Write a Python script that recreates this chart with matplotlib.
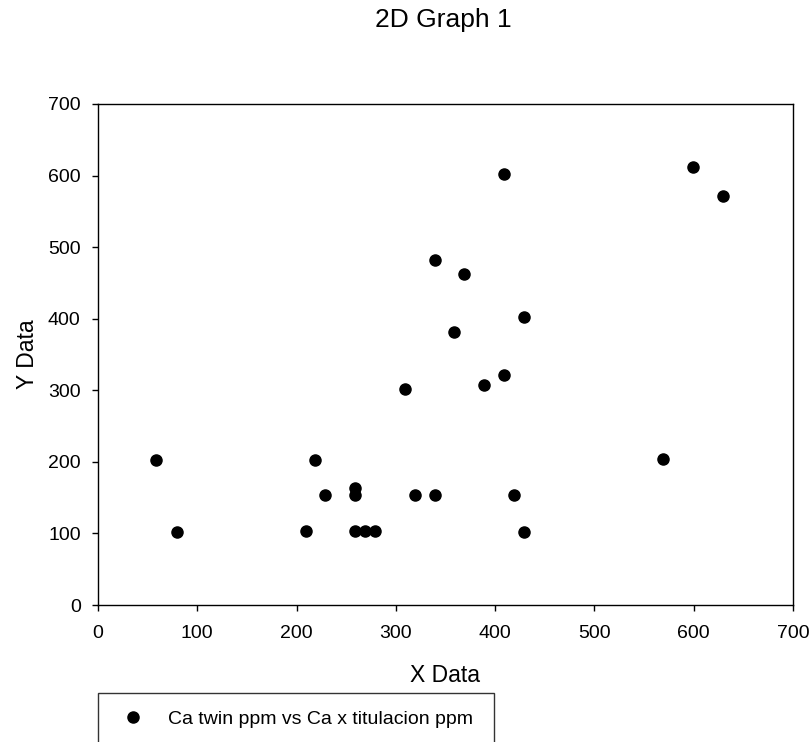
import matplotlib
matplotlib.use("Agg")
import matplotlib.pyplot as plt

plt.rcParams['font.family'] = ['Liberation Sans', 'DejaVu Sans']

# Ca x titulacion ppm (x) vs Ca twin ppm (y)
ca_titulacion = [58, 80, 209, 219, 229, 259, 259, 259, 269, 279, 309, 319, 339,
                 339, 359, 369, 389, 409, 409, 419, 429, 429, 569, 599, 629]
ca_twin = [202, 102, 103, 202, 154, 164, 154, 103, 103, 103, 302, 154, 154,
           482, 382, 462, 307, 322, 602, 154, 102, 402, 204, 612, 572]

x_ticks = [0, 100, 200, 300, 400, 500, 600, 700]
y_ticks = [0, 100, 200, 300, 400, 500, 600, 700]
series_label = "Ca twin ppm vs Ca x titulacion ppm"

W, H = 812, 742
fig = plt.figure(figsize=(W / 100, H / 100), dpi=100)
ax = fig.add_axes([98 / W, 1 - 605 / H, 695 / W, 501 / H])

ax.plot(ca_titulacion, ca_twin, 'o', ls='none', color='black', ms=8,
        label=series_label)

ax.set_xlim(0, 700)
ax.set_ylim(0, 700)
ax.set_xticks(x_ticks)
ax.set_yticks(y_ticks)
ax.tick_params(axis='both', direction='out', length=4.5, width=1,
               labelsize=14, top=False, right=False)
ax.tick_params(axis='x', pad=10)
ax.tick_params(axis='y', pad=8)
for sp in ax.spines.values():
    sp.set_linewidth(1)

ax.set_xlabel("X Data", fontsize=16.5)
ax.set_ylabel("Y Data", fontsize=16.5)
ax.xaxis.set_label_coords(0.5, -(675 - 605) / 501)
ax.yaxis.set_label_coords(-(98 - 28) / 695, 0.5)
ax.xaxis.label.set_va('center')
ax.yaxis.label.set_va('center')

fig.text(443.5 / W, 1 - 20 / H, "2D Graph 1", ha='center', va='center',
         fontsize=19)

leg = ax.legend(loc='upper left', mode='expand',
                bbox_to_anchor=(98 / W, 1 - 693 / H - 0.01, 396 / W, 0.01),
                bbox_transform=fig.transFigure, fontsize=14, frameon=True,
                fancybox=False, borderpad=0.9, handlelength=1.8,
                handletextpad=0.9, borderaxespad=0)
leg.get_frame().set_edgecolor('black')
leg.get_frame().set_linewidth(1)

fig.savefig("out.png", dpi=100)
